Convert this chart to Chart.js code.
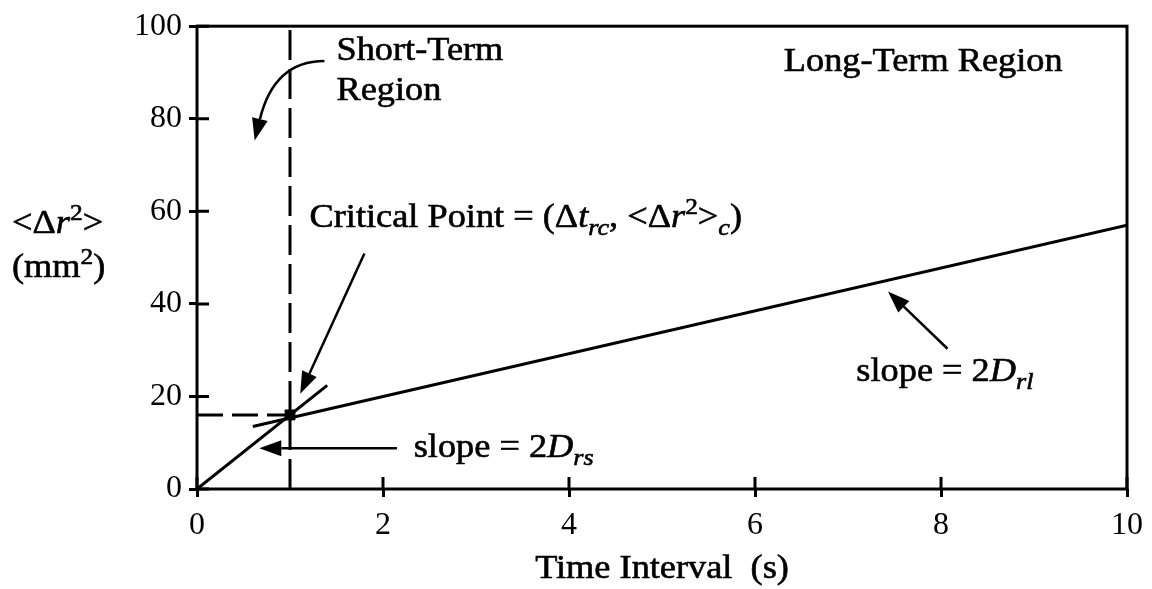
<!DOCTYPE html>
<html>
<head>
<meta charset="utf-8">
<script src="https://cdn.jsdelivr.net/npm/chart.js@4.4.1/dist/chart.umd.min.js"></script>
<style>
  html, body { margin: 0; padding: 0; background: #fff; }
  canvas { display: block; }
</style>
</head>
<body>
<canvas id="myChart" width="1152" height="589"></canvas>
<script>
"use strict";
// axis ticks
let xTicks = [0, 2, 4, 6, 8, 10];
let yTicks = [0, 20, 40, 60, 80, 100];
// short-term fit line (through origin)
let shortX = [0, 1.4];
let shortY = [0, 22.4];
// long-term fit line
let longX = [0.6, 10];
let longY = [13.5, 57];
// critical point
let critX = [1];
let critY = [16];

const FONT = '"Liberation Serif", "Times New Roman", serif';
const SX = 1.1; // scan looks a bit wide
const TXT = 33;

function pts(xs, ys) {
  let out = [];
  for (let i = 0; i < xs.length; i++) out.push({ x: xs[i], y: ys[i] });
  return out;
}

// rich text: [text, italic?, "sup"|"sub"|""]
function drawRich(ctx, segs, x, y, size) {
  ctx.save();
  ctx.translate(x, y);
  ctx.scale(SX, 1);
  ctx.fillStyle = "#000";
  ctx.strokeStyle = "#000";
  ctx.lineWidth = 0.6;
  ctx.textBaseline = "alphabetic";
  ctx.textAlign = "left";
  let cx = 0;
  for (let s of segs) {
    let fs = size, dy = 0;
    if (s[2] == "sup") { fs = size * 0.7; dy = -size * 0.38; }
    if (s[2] == "sub") { fs = size * 0.72; dy = size * 0.25; }
    ctx.font = (s[1] ? "italic " : "") + fs + "px " + FONT;
    ctx.fillText(s[0], cx, dy);
    ctx.strokeText(s[0], cx, dy);
    cx += ctx.measureText(s[0]).width;
  }
  ctx.restore();
}

function arrowHead(ctx, tx, ty, dx, dy, len, half) {
  let d = Math.hypot(dx, dy);
  let ux = dx / d, uy = dy / d;
  let bx = tx - ux * len, by = ty - uy * len;
  ctx.beginPath();
  ctx.moveTo(tx, ty);
  ctx.lineTo(bx - uy * half, by + ux * half);
  ctx.lineTo(bx + uy * half, by - ux * half);
  ctx.closePath();
  ctx.fill();
  return [bx, by];
}

// labels and arrows (data units)
let labels = [
  { x: 1.5, y: 92.7, segs: [["Short-Term"]] },
  { x: 1.5, y: 84.1, segs: [["Region"]] },
  { x: 6.31, y: 90.3, segs: [["Long-Term Region"]] },
  { x: 1.21, y: 56.7, segs: [["Critical Point = (\u0394"], ["t", true], ["rc", true, "sub"], [", <\u0394"], ["r", true], ["2", false, "sup"], [">"], ["c", true, "sub"], [")"]] },
  { x: 2.33, y: 6.9, segs: [["slope = 2"], ["D", true], ["rs", true, "sub"]] },
  { x: 7.09, y: 23.4, segs: [["slope = 2"], ["D", true], ["rl", true, "sub"]] },
];
let arrows = [
  { from: [1.37, 92.5], ctrl: [0.83, 92.5], to: [0.62, 75.3] },
  { from: [1.8, 50.9], to: [1.11, 20.6] },
  { from: [2.15, 8.8], to: [0.67, 8.8] },
  { from: [8.07, 30.3], to: [7.43, 42.7] },
];

const annotPlugin = {
  id: "annot",
  afterDatasetsDraw(chart) {
    let ctx = chart.ctx;
    let xs = chart.scales.x, ys = chart.scales.y;
    let a = chart.chartArea;
    ctx.save();
    // frame
    ctx.strokeStyle = "#000";
    ctx.lineWidth = 3;
    ctx.strokeRect(a.left, a.top, a.right - a.left, a.bottom - a.top);
    // inward tick marks
    ctx.beginPath();
    for (let t of xTicks) {
      let px = xs.getPixelForValue(t);
      ctx.moveTo(px, a.bottom);
      ctx.lineTo(px, a.bottom - 12);
    }
    for (let t of yTicks) {
      let py = ys.getPixelForValue(t);
      ctx.moveTo(a.left, py);
      ctx.lineTo(a.left + 12, py);
    }
    ctx.stroke();

    // arrows
    ctx.fillStyle = "#000";
    ctx.lineWidth = 2.5;
    for (let ar of arrows) {
      let fx = xs.getPixelForValue(ar.from[0]), fy = ys.getPixelForValue(ar.from[1]);
      let tx = xs.getPixelForValue(ar.to[0]), ty = ys.getPixelForValue(ar.to[1]);
      if (ar.ctrl) {
        let cx = xs.getPixelForValue(ar.ctrl[0]), cy = ys.getPixelForValue(ar.ctrl[1]);
        let b = arrowHead(ctx, tx, ty, tx - cx, ty - cy, 22, 8);
        ctx.beginPath();
        ctx.moveTo(fx, fy);
        ctx.quadraticCurveTo(cx, cy, b[0], b[1]);
        ctx.stroke();
      } else {
        let b = arrowHead(ctx, tx, ty, tx - fx, ty - fy, 22, 8);
        ctx.beginPath();
        ctx.moveTo(fx, fy);
        ctx.lineTo(b[0], b[1]);
        ctx.stroke();
      }
    }

    // text
    for (let l of labels) {
      drawRich(ctx, l.segs, xs.getPixelForValue(l.x), ys.getPixelForValue(l.y), TXT);
    }
    // axis titles
    drawRich(ctx, [["<\u0394"], ["r", true], ["2", false, "sup"], [">"]], 12, 233, TXT);
    drawRich(ctx, [["(mm"], ["2", false, "sup"], [")"]], 12, 277, TXT);
    ctx.font = TXT + "px " + FONT;
    let w = ctx.measureText("Time Interval  (s)").width * SX;
    drawRich(ctx, [["Time Interval  (s)"]], (a.left + a.right) / 2 - w / 2, 578, TXT);
    ctx.restore();
  },
};

let ctx = document.getElementById("myChart").getContext("2d");
let myChart = new Chart(ctx, {
  type: "scatter",
  data: {
    datasets: [
      {
        label: "short-term",
        data: pts(shortX, shortY),
        showLine: true,
        borderColor: "#000",
        borderWidth: 3,
        pointRadius: 0,
      },
      {
        label: "long-term",
        data: pts(longX, longY),
        showLine: true,
        borderColor: "#000",
        borderWidth: 3,
        pointRadius: 0,
      },
      {
        label: "critical x",
        data: [{ x: critX[0], y: 0 }, { x: critX[0], y: 100 }],
        showLine: true,
        borderColor: "#000",
        borderWidth: 3,
        borderDash: [30, 9],
        pointRadius: 0,
      },
      {
        label: "critical y",
        data: [{ x: 0, y: critY[0] }, { x: critX[0], y: critY[0] }],
        showLine: true,
        borderColor: "#000",
        borderWidth: 3,
        borderDash: [26, 9],
        pointRadius: 0,
      },
      {
        label: "critical point",
        data: pts(critX, critY),
        backgroundColor: "#000",
        borderColor: "#000",
        pointStyle: "rect",
        pointRadius: 7,
      },
    ],
  },
  options: {
    responsive: false,
    animation: false,
    devicePixelRatio: 1,
    layout: { padding: { left: 0, top: 23, right: 20, bottom: 0 } },
    plugins: { legend: { display: false }, tooltip: { enabled: false } },
    scales: {
      x: {
        type: "linear",
        min: 0,
        max: 10,
        afterFit: (s) => { s.height = 100; },
        afterBuildTicks: (s) => { s.ticks = xTicks.map((v) => ({ value: v })); },
        ticks: { color: "#000", padding: 9, font: { family: FONT, size: 32 } },
        grid: { drawOnChartArea: false, drawTicks: true, tickLength: 8, tickWidth: 3, tickColor: "#000" },
        border: { display: false },
      },
      y: {
        type: "linear",
        min: 0,
        max: 100,
        afterFit: (s) => { s.width = 197; },
        afterBuildTicks: (s) => { s.ticks = yTicks.map((v) => ({ value: v })); },
        ticks: { color: "#000", padding: 7, font: { family: FONT, size: 32 } },
        grid: { drawOnChartArea: false, drawTicks: true, tickLength: 8, tickWidth: 3, tickColor: "#000" },
        border: { display: false },
      },
    },
  },
  plugins: [annotPlugin],
});
</script>
</body>
</html>
